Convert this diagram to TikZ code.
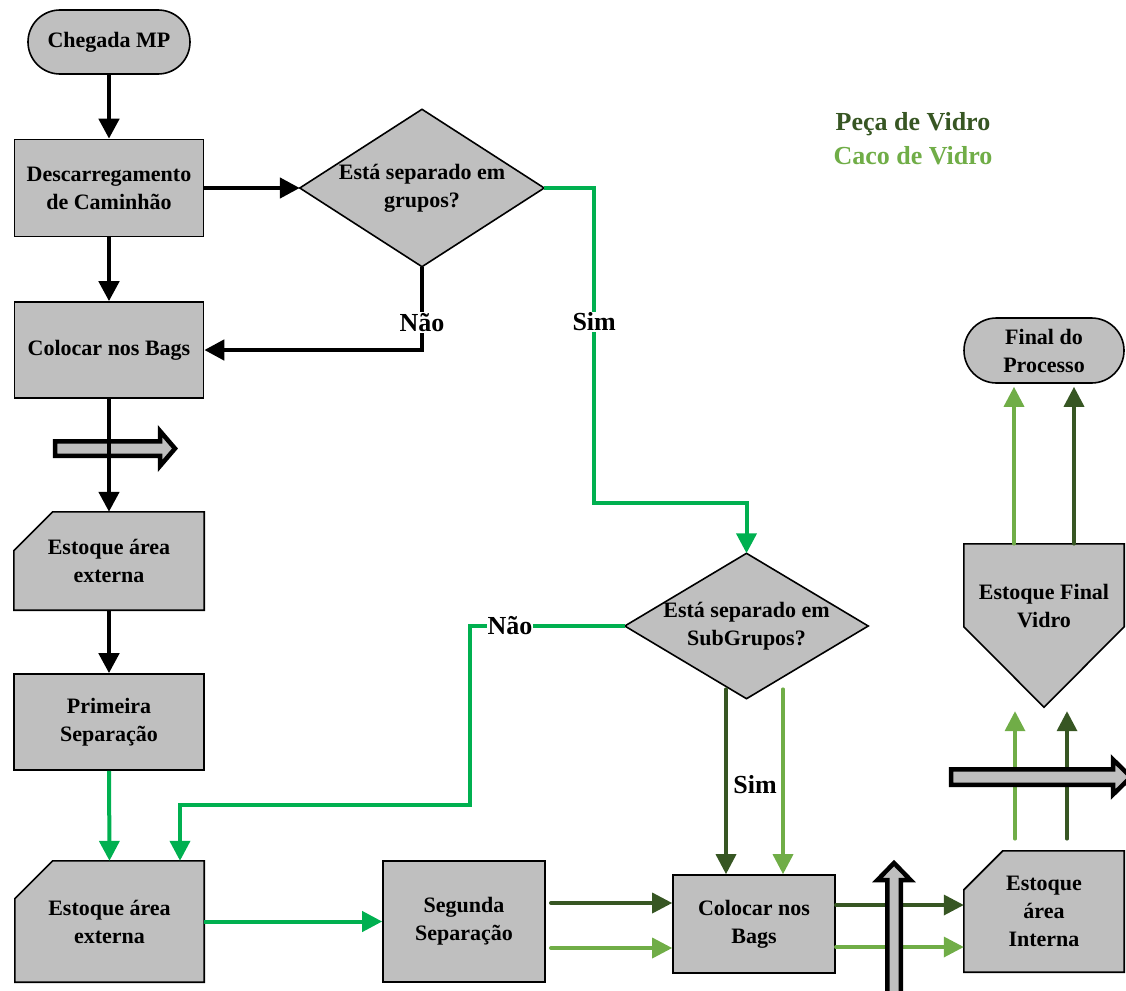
\documentclass[tikz,border=0pt]{standalone}
\usepackage{fontspec}
\setmainfont{Liberation Serif}
\usetikzlibrary{arrows.meta,calc}
\pgfdeclarelayer{background}
\pgfsetlayers{background,main}

\definecolor{boxgray}{HTML}{BFBFBF}
\definecolor{brightgreen}{HTML}{00B050}
\definecolor{darkgreen}{HTML}{375623}
\definecolor{lightgreen}{HTML}{70AD47}

\tikzset{
  txt/.style={font=\fontsize{22}{28}\selectfont\bfseries, align=center, inner sep=0pt},
  shapeline/.style={draw=black, line width=1.6pt, fill=boxgray, line join=miter},
  procbox/.style={txt, shapeline, rectangle},
  termbox/.style={procbox, rounded corners=32pt},
  textarea/.style={txt, rectangle},
  tip/.style={-{Triangle[length=20pt,width=20pt]}},
  flowblk/.style={tip, draw=black, line width=4.5pt},
  flowgrn/.style={tip, draw=brightgreen, line width=4pt},
  flowdk/.style={tip, draw=darkgreen, line width=3.5pt, line cap=round},
  flowlt/.style={tip, draw=lightgreen, line width=3.5pt, line cap=round},
  lbl/.style={font=\fontsize{26}{30}\selectfont\bfseries, fill=white, inner sep=1pt},
  lblplain/.style={font=\fontsize{26}{30}\selectfont\bfseries, inner sep=1pt},
  legend/.style={font=\fontsize{26}{30}\selectfont\bfseries, inner sep=0pt},
  blockarrow/.style={draw=black, line width=4.5pt, fill=boxgray, line join=miter},
}

\begin{document}
\begin{tikzpicture}[x=1pt, y=-1pt]
\clip (0,0) rectangle (1126,990);

% ---- process nodes ----
\node[termbox, minimum width=162pt, minimum height=64pt] (start) at (109,42) {Chegada MP};
\node[procbox, minimum width=189pt, minimum height=97pt] (desc) at (109,188) {Descarregamento\\de Caminhão};
\node[textarea, minimum width=244pt, minimum height=157pt] (d1) at (422,188) {Está separado em\\grupos?};
\node[procbox, minimum width=189pt, minimum height=96pt] (bags1) at (109,350) {Colocar nos Bags};
\node[textarea, minimum width=190pt, minimum height=98pt] (est1) at (109,561) {Estoque área\\externa};
\node[procbox, minimum width=190pt, minimum height=96pt] (prim) at (109,722) {Primeira\\Separação};
\node[textarea, minimum width=189pt, minimum height=121pt] (est2) at (109.5,921.5) {Estoque área\\externa};
\node[procbox, minimum width=162pt, minimum height=121pt] (seg) at (464,921.5) {Segunda\\Separação};
\node[textarea, minimum width=243pt, minimum height=145pt] (d2) at (746.5,626) {Está separado em\\SubGrupos?};
\node[procbox, minimum width=162pt, minimum height=98pt] (bags2) at (754,924) {Colocar nos\\Bags};
\node[textarea, minimum width=160pt, minimum height=121pt] (estint) at (1044,911.5) {Estoque\\área\\Interna};
\node[textarea, minimum width=160pt, minimum height=163pt] (estfin) at (1044,625.5) {};
\node[txt] (estfintxt) at (1044,606) {Estoque Final\\Vidro};
\node[termbox, rounded corners=32.5pt, minimum width=160pt, minimum height=65pt] (final) at (1044,350.5) {Final do\\Processo};

% ---- legend ----
\node[legend, text=darkgreen] (leg1) at (913,124) {Peça de Vidro};
\node[legend, text=lightgreen] (leg2) at (913,156) {Caco de Vidro};

% ---- outlined shapes behind the text ----
\begin{pgfonlayer}{background}
  \path[shapeline] (d1.north) -- (d1.east) -- (d1.south) -- (d1.west) -- cycle;
  \path[shapeline] (d2.north) -- (d2.east) -- (d2.south) -- (d2.west) -- cycle;
  \path[shapeline] ($(est1.north west)+(39,0)$) -- (est1.north east) -- (est1.south east)
    -- (est1.south west) -- ($(est1.north west)+(0,39)$) -- cycle;
  \path[shapeline] ($(est2.north west)+(38,0)$) -- (est2.north east) -- (est2.south east)
    -- (est2.south west) -- ($(est2.north west)+(0,38)$) -- cycle;
  \path[shapeline] ($(estint.north west)+(39,0)$) -- (estint.north east) -- (estint.south east)
    -- (estint.south west) -- ($(estint.north west)+(0,39)$) -- cycle;
  \path[shapeline] (estfin.north west) -- (estfin.north east) -- ($(estfin.north east)+(0,83)$)
    -- (estfin.south) -- ($(estfin.north west)+(0,83)$) -- cycle;
\end{pgfonlayer}

% ---- black flow ----
\draw[flowblk] (start.south) -- (desc.north);
\draw[flowblk] (desc.east) -- (d1.west);
\draw[flowblk] (desc.south) -- (bags1.north);
\draw[flowblk] (d1.south) -- node[lbl, pos=0.67] (lblnao1) {Não} (d1.south |- bags1.east) -- (bags1.east);

% transport between areas
\path[blockarrow] (55,441.25) -- (160,441.25) -- (160,431) -- (175,448.5) -- (160,466)
  -- (160,455.75) -- (55,455.75) -- cycle;

\draw[flowblk] (bags1.south) -- (est1.north);
\draw[flowblk] (est1.south) -- (prim.north);

% ---- green flow ----
\draw[flowgrn] (d1.east) -- ++(50,0) -- node[lbl, pos=0.425] (lblsim1) {Sim} ++(0,315) -| (d2.north);
\draw[flowgrn] (prim.south) -- (est2.north);
\draw[flowgrn] (d2.west) -- node[lbl, pos=0.74] (lblnao2) {Não} ++(-155,0)
  |- ($(est2.north)+(70.5,-56)$) -- ($(est2.north)+(70.5,0)$);
\draw[flowgrn] (est2.east) -- (seg.west);

% ---- glass piece / cullet flows ----
\draw[flowdk] ($(seg.east)+(5,-18.5)$) -- ($(bags2.west)+(0,-21)$);
\draw[flowlt] ($(seg.east)+(5,26.5)$) -- ($(bags2.west)+(0,24)$);
\draw[flowdk] ($(d2.south)+(-20.5,-9.5)$) -- ($(bags2.north)+(-28,0)$);
\draw[flowlt] ($(d2.south)+(36.5,-9.5)$) -- ($(bags2.north)+(29,0)$);
\node[lblplain] (lblsim2) at (755,785) {Sim};

\draw[flowdk] ($(bags2.east)+(0,-19)$) -- ($(estint.west)+(0,-6.5)$);
\draw[flowlt] ($(bags2.east)+(0,23)$) -- ($(estint.west)+(0,35.5)$);

\path[blockarrow] (887.25,1000) -- (887.25,880) -- (877.5,880) -- (894,863) -- (910.5,880)
  -- (900.75,880) -- (900.75,1000) -- cycle;

\draw[flowlt] ($(estint.north)+(-29,-12)$) -- ($(estfin.south)+(-29,4)$);
\draw[flowdk] ($(estint.north)+(23,-12)$) -- ($(estfin.south)+(23,4)$);

\path[blockarrow] (951,769.25) -- (1113,769.25) -- (1113,759.5) -- (1131,777) -- (1113,794.5)
  -- (1113,784.75) -- (951,784.75) -- cycle;

\draw[flowlt] ($(estfin.north)+(-30,0)$) -- ($(final.south)+(-30,3)$);
\draw[flowdk] ($(estfin.north)+(30,0)$) -- ($(final.south)+(30,3)$);
\end{tikzpicture}
\end{document}
